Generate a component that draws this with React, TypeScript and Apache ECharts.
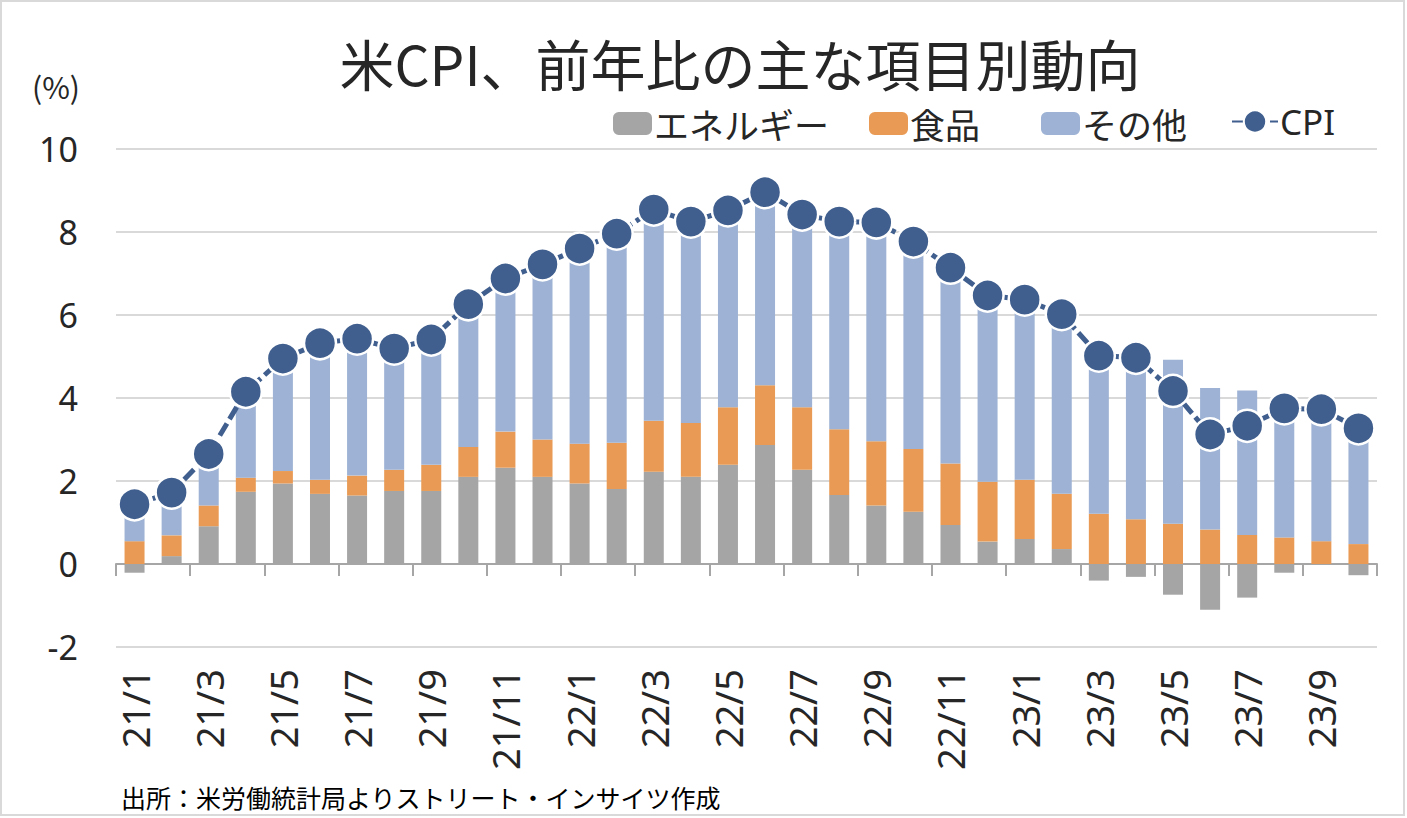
import React, { useEffect, useRef } from "react";
import * as echarts from "echarts";

const categories = [
  "21/1", "21/2", "21/3", "21/4", "21/5", "21/6", "21/7", "21/8", "21/9", "21/10", "21/11", "21/12",
  "22/1", "22/2", "22/3", "22/4", "22/5", "22/6", "22/7", "22/8", "22/9", "22/10", "22/11", "22/12",
  "23/1", "23/2", "23/3", "23/4", "23/5", "23/6", "23/7", "23/8", "23/9", "23/10",
];

const energy = [
  -0.21, 0.19, 0.91, 1.74, 1.94, 1.69, 1.65, 1.76, 1.76, 2.1, 2.32, 2.1,
  1.94, 1.81, 2.22, 2.1, 2.39, 2.87, 2.27, 1.66, 1.41, 1.26, 0.94, 0.54,
  0.6, 0.36, -0.4, -0.31, -0.74, -1.1, -0.81, -0.21, 0.0, -0.27,
];

const food = [
  0.55, 0.5, 0.5, 0.34, 0.3, 0.34, 0.48, 0.51, 0.63, 0.72, 0.87, 0.9,
  0.96, 1.11, 1.23, 1.3, 1.39, 1.44, 1.51, 1.59, 1.55, 1.51, 1.48, 1.44,
  1.43, 1.33, 1.21, 1.08, 0.97, 0.83, 0.7, 0.64, 0.55, 0.48,
];

const other = [
  1.1, 1.03, 1.24, 2.07, 2.71, 3.29, 3.3, 2.92, 3.02, 3.44, 3.69, 4.22,
  4.7, 5.04, 5.09, 4.85, 4.74, 4.65, 4.64, 5.0, 5.27, 5.0, 4.72, 4.49,
  4.34, 4.33, 4.05, 4.05, 3.95, 3.41, 3.48, 3.32, 3.18, 3.06,
];

const cpi = [
  1.44, 1.72, 2.65, 4.15, 4.95, 5.32, 5.43, 5.19, 5.41, 6.26, 6.88, 7.22,
  7.6, 7.96, 8.54, 8.25, 8.52, 8.96, 8.42, 8.25, 8.23, 7.77, 7.14, 6.47,
  6.37, 6.02, 5.02, 4.97, 4.17, 3.12, 3.33, 3.75, 3.73, 3.27,
];

const seriesNames = ["エネルギー", "食品", "その他", "CPI"];
const colors = ["#a5a5a5", "#e99b55", "#9db2d4", "#405f8e"];

const titleText = "米CPI、前年比の主な項目別動向";
const unitText = "(%)";
const sourceText = "出所：米労働統計局よりストリート・インサイツ作成";

const JP = '"Noto Sans CJK JP", "Noto Sans", sans-serif';
const NUM = '"Noto Sans", "Noto Sans CJK JP", sans-serif';

export default function App() {
  const ref = useRef<HTMLDivElement>(null);

  useEffect(() => {
    if (!ref.current) return;
    const chart = echarts.init(ref.current, undefined, { renderer: "svg" });

    const legendPos = [613, 869, 1041, 1231];
    const legends = seriesNames.map((name, i) => ({
      data: [name],
      left: legendPos[i],
      top: i === 3 ? 104 : 106,
      orient: "horizontal",
      itemWidth: i === 3 ? 46 : 39,
      itemHeight: i === 3 ? 28 : 23,
      itemGap: 0,
      padding: 0,
      textStyle: {
        fontFamily: i === 3 ? NUM : JP,
        fontSize: 35,
        lineHeight: 26,
        color: "#262626",
        padding: [0, 0, 0, -3],
      },
    }));

    const option: any = {
      animation: false,
      backgroundColor: "#ffffff",
      textStyle: { fontFamily: JP },
      grid: { left: 116, right: 30, top: 149, bottom: 171, containLabel: false },
      legend: legends,
      graphic: [
        {
          type: "rect",
          shape: { x: 1, y: 1, width: 1403, height: 814 },
          style: { fill: "none", stroke: "#d9d9d9", lineWidth: 2 },
          silent: true,
          z: -1,
        },
        {
          type: "text",
          x: 740,
          y: 62,
          style: {
            text: titleText,
            fontFamily: JP,
            fontSize: 55,
            lineHeight: 56,
            fill: "#262626",
            textAlign: "center",
            textVerticalAlign: "middle",
          },
        },
        {
          type: "text",
          x: 56,
          y: 86,
          style: {
            text: unitText,
            fontFamily: JP,
            fontSize: 30,
            fill: "#262626",
            textAlign: "center",
            textVerticalAlign: "middle",
          },
        },
        {
          type: "text",
          x: 121,
          y: 797,
          style: {
            text: sourceText,
            fontFamily: JP,
            fontSize: 25,
            fill: "#000000",
            textAlign: "left",
            textVerticalAlign: "middle",
          },
        },
      ],
      xAxis: [
        {
          type: "category",
          data: categories,
          boundaryGap: true,
          axisLine: { show: true, onZero: true, lineStyle: { color: "#a6a6a6", width: 2 } },
          axisTick: { show: true, interval: 1, length: 12, lineStyle: { color: "#a6a6a6", width: 2 } },
          axisLabel: { show: false },
          splitLine: { show: false },
        },
        {
          type: "category",
          data: categories,
          position: "bottom",
          boundaryGap: true,
          axisLine: { show: false, onZero: false },
          axisTick: { show: false },
          axisLabel: {
            show: true,
            interval: 1,
            rotate: 90,
            margin: 22,
            fontFamily: NUM,
            fontSize: 38,
            color: "#262626",
          },
          splitLine: { show: false },
        },
      ],
      yAxis: {
        type: "value",
        min: -2,
        max: 10,
        interval: 2,
        axisLine: { show: false },
        axisTick: { show: false },
        axisLabel: { fontFamily: NUM, fontSize: 34, color: "#262626", margin: 38 },
        splitLine: { lineStyle: { color: "#d9d9d9", width: 2 } },
      },
      series: [
        {
          name: seriesNames[0],
          type: "bar",
          stack: "total",
          data: energy,
          barWidth: 20,
          itemStyle: { color: colors[0] },
        },
        {
          name: seriesNames[1],
          type: "bar",
          stack: "total",
          data: food,
          barWidth: 20,
          itemStyle: { color: colors[1] },
        },
        {
          name: seriesNames[2],
          type: "bar",
          stack: "total",
          data: other,
          barWidth: 20,
          itemStyle: { color: colors[2] },
        },
        {
          name: seriesNames[3],
          type: "line",
          data: cpi,
          symbol: "circle",
          symbolSize: 32,
          showSymbol: true,
          showAllSymbol: true,
          lineStyle: { color: colors[3], width: 5, type: [14, 5] },
          itemStyle: { color: colors[3], borderColor: "#ffffff", borderWidth: 2.5 },
          z: 5,
        },
      ],
    };

    chart.setOption(option);
    return () => {
      chart.dispose();
    };
  }, []);

  return (
    <div
      ref={ref}
      style={{ position: "fixed", left: 0, top: 0, width: 1407, height: 818, background: "#fff" }}
    />
  );
}
